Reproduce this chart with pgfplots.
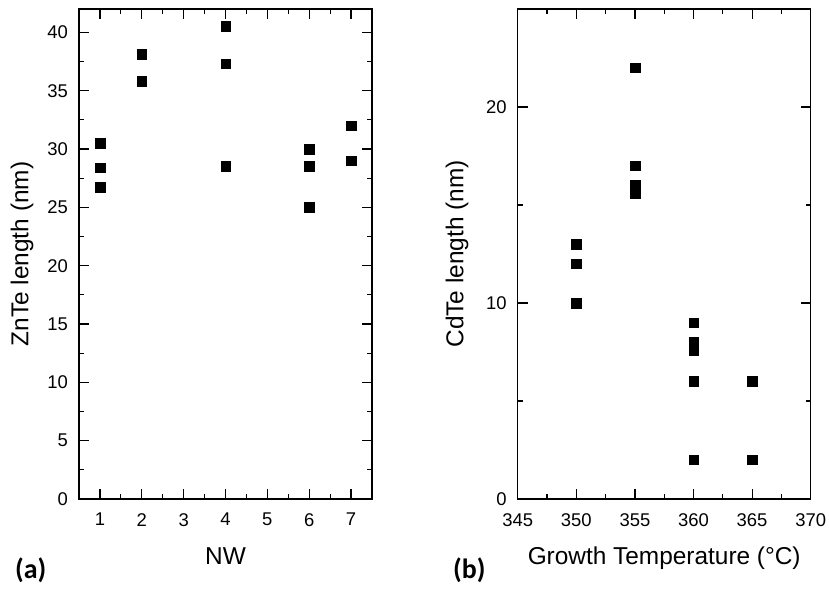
\documentclass[border=0pt]{standalone}
\usepackage{fontspec}
\setmainfont{Liberation Sans}
\newfontfamily\calib{Carlito}
\usepackage{pgfplots}
\pgfplotsset{compat=1.18}
\newcommand\tickfont{\fontsize{18.5}{22}\selectfont}
\begin{document}
\begin{tikzpicture}
\pgfplotsset{
  myax/.style={
    scale only axis, width=293bp, height=490bp, anchor=south west,
    axis line style={line width=1.5bp},
    every tick/.style={line width=1.2bp, black},
    tick align=inside,
    major tick length=10bp, minor tick length=5bp,
    /pgf/number format/assume math mode=true,
    xticklabel={\tickfont\pgfmathprintnumber{\tick}},
    yticklabel={\tickfont\pgfmathprintnumber{\tick}},
    yticklabel style={inner sep=0pt, xshift=-11bp},
    xticklabel style={inner sep=0pt, yshift=-14bp},
    clip=false,
  },
}
\path[use as bounding box] (0,0) rectangle (829bp,592bp);
\begin{axis}[myax, at={(79bp,93bp)},
  xmin=0.5, xmax=7.5, ymin=0, ymax=42,
  xtick={1,...,7}, ytick={0,5,...,40},
  minor x tick num=1, minor y tick num=1]
\addplot[only marks, mark=square*, mark size=4.8bp, black] coordinates {
 (1,30.5) (1,28.4) (1,26.7)
 (2,38.1) (2,35.8)
 (4,40.5) (4,37.3) (4,28.5)
 (6,30) (6,28.5) (6,25)
 (7,32) (7,29)
};
\node[rotate=90, anchor=base, font=\fontsize{24.5}{28}\selectfont] at ([xshift=-50.7bp]rel axis cs:0,0.5) {ZnTe length (nm)};
\node[anchor=base, font=\fontsize{24.5}{28}\selectfont] at ([yshift=-65bp]rel axis cs:0.5,0) {NW};
\end{axis}
\begin{axis}[myax, at={(517.7bp,93bp)},
  xmin=345, xmax=370, ymin=0, ymax=25,
  xtick={345,350,...,370}, ytick={0,10,20},
  minor x tick num=1, minor y tick num=1]
\addplot[only marks, mark=square*, mark size=4.8bp, black] coordinates {
 (350,13) (350,12) (350,10)
 (355,22) (355,17) (355,16) (355,15.6)
 (360,9) (360,8) (360,7.6) (360,6) (360,2)
 (365,6) (365,2)
};
\node[rotate=90, anchor=base, font=\fontsize{24.5}{28}\selectfont] at ([xshift=-54.4bp]rel axis cs:0,0.5) {CdTe length (nm)};
\node[anchor=base, font=\fontsize{24.5}{28}\selectfont] at ([yshift=-65bp]rel axis cs:0.5,0) {Growth Temperature (°C)};
\end{axis}
\node[anchor=base west, font=\calib\bfseries\fontsize{28}{32}\selectfont, inner sep=0pt] at (15bp,14bp) {(a)};
\node[anchor=base west, font=\calib\bfseries\fontsize{28}{32}\selectfont, inner sep=0pt] at (453bp,14bp) {(b)};
\end{tikzpicture}
\end{document}
